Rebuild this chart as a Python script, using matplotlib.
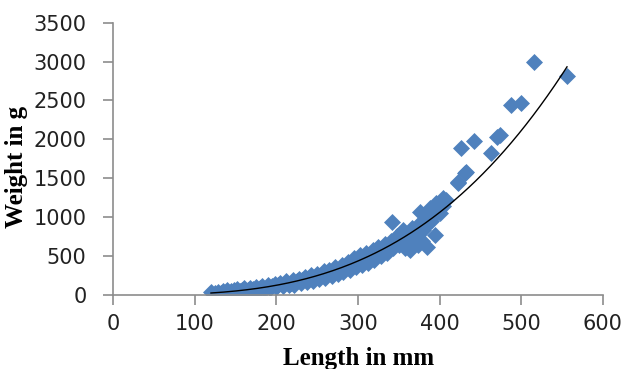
import numpy as np
import matplotlib
matplotlib.use('Agg')
import matplotlib.pyplot as plt

# длина (мм) и масса (г)
length = [120, 125, 128, 132, 135, 138, 140, 142, 145, 148, 150, 152, 155, 158,
          160, 162, 165, 168, 170, 172, 175, 178, 180, 182, 185, 188, 190, 192,
          195, 198, 200, 202, 205, 208, 210, 212, 215, 218, 220, 222, 225, 228,
          230, 232, 235, 238, 240, 242, 245, 248, 250, 252, 255, 258, 260, 262,
          265, 268, 270, 272, 275, 278, 280, 282, 285, 288, 290, 292, 295, 298,
          300, 302, 305, 308, 310, 312, 315, 318, 320, 322, 325, 328, 330, 333,
          335, 338, 340, 343, 345, 348, 350, 353, 357, 360, 363, 366, 370, 373,
          376, 380, 383, 386, 390, 393, 396, 400, 404, 408,
          342, 355, 361, 364, 373, 384, 394, 376, 388, 396, 404, 422, 423, 431,
          432, 426, 442, 463, 470, 474, 488, 500, 515, 556,
          358, 366, 370, 378]
weight = [45, 25, 40, 30, 55, 35, 60, 28, 50, 70, 42, 80, 50, 68,
          85, 48, 70, 95, 60, 80, 105, 65, 95, 115, 75, 100, 125, 85,
          110, 145, 100, 130, 155, 115, 140, 175, 125, 160, 190, 135, 180, 205,
          155, 195, 230, 170, 215, 255, 185, 235, 275, 200, 255, 305, 225, 285,
          325, 245, 305, 355, 265, 335, 385, 295, 365, 425, 325, 395, 475, 355,
          430, 510, 380, 460, 540, 410, 500, 580, 450, 530, 620, 500, 580, 660,
          540, 620, 700, 600, 680, 760, 640, 720, 800, 700, 780, 860, 760, 840,
          920, 830, 900, 980, 950, 1030, 1100, 1050, 1150, 1220,
          940, 835, 668, 580, 643, 621, 771, 1071, 1118, 1182, 1243, 1435, 1456, 1564,
          1580, 1885, 1985, 1821, 2035, 2060, 2442, 2472, 2990, 2810,
          600, 640, 700, 690]

x_ticks = [0, 100, 200, 300, 400, 500, 600]
y_ticks = [0, 500, 1000, 1500, 2000, 2500, 3000, 3500]

L = np.array(length, dtype=float)
W = np.array(weight, dtype=float)

# степенная линия тренда, как в Excel
b, log_a = np.polyfit(np.log(L), np.log(W), 1)
xs = np.linspace(L.min(), L.max(), 200)
ys = np.exp(log_a) * xs ** b

fig = plt.figure(figsize=(6.33, 3.69), dpi=100)
ax = fig.add_axes([0.1785, 0.2005, 0.774, 0.738])

ax.scatter(L, W, marker='D', s=75, color='#4F81BD', linewidths=0, zorder=2)
ax.plot(xs, ys, color='black', linewidth=1.0, zorder=3)

ax.set_xlim(0, 600)
ax.set_ylim(0, 3500)
ax.set_xticks(x_ticks)
ax.set_yticks(y_ticks)

for s in ['top', 'right']:
    ax.spines[s].set_visible(False)
for s in ['left', 'bottom']:
    ax.spines[s].set_color('#8c8c8c')
    ax.spines[s].set_linewidth(1.2)

ax.tick_params(axis='both', colors='#8c8c8c', length=7, width=1.2,
               labelcolor='#222222', labelsize=15)
ax.tick_params(axis='y', pad=12)
ax.tick_params(axis='x', pad=7)

ax.set_xlabel('Length in mm', fontfamily='Liberation Serif', fontweight='bold', fontsize=18)
ax.set_ylabel('Weight in g', fontfamily='Liberation Serif', fontweight='bold', fontsize=18)
ax.xaxis.set_label_coords(0.501, -0.19)
ax.yaxis.set_label_coords(-0.173, 0.47)

plt.savefig('out.png', dpi=100)
